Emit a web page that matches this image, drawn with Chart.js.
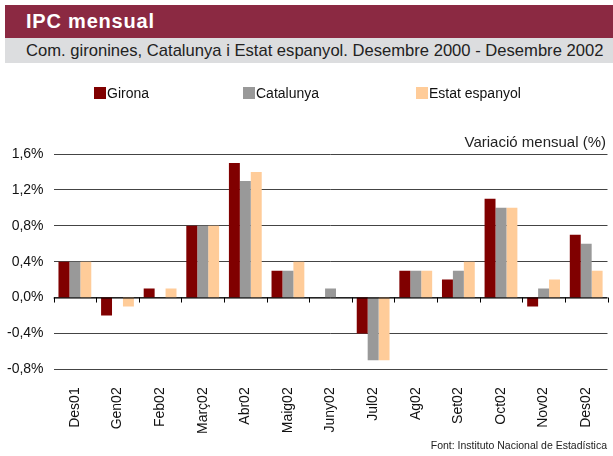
<!DOCTYPE html>
<html>
<head>
<meta charset="utf-8">
<script src="https://cdn.jsdelivr.net/npm/chart.js@4"></script>
<style>
  html, body { margin: 0; padding: 0; background: #fff; }
  #wrap { position: relative; width: 613px; height: 456px; overflow: hidden; font-family: "Liberation Sans", Arial, sans-serif; }
  #chartBox { position: absolute; left: -3px; top: 0; width: 616px; height: 456px; }
  .band-title { position: absolute; left: 5px; top: 5px; width: 608px; height: 33px; background: #8b2942; }
  .band-title span { position: absolute; left: 21px; top: 5px; color: #fff; font-weight: bold; font-size: 20px; letter-spacing: 0.8px; }
  .band-sub { position: absolute; left: 5px; top: 38px; width: 608px; height: 25px; background: #dcdddf; }
  .band-sub span { position: absolute; left: 21px; top: 3px; color: #222; font-size: 16.6px; white-space: nowrap; }
  .legend { position: absolute; top: 85px; font-size: 14px; color: #111; white-space: nowrap; }
  .legend i { display: inline-block; width: 12px; height: 12px; vertical-align: -1px; margin-right: 1px; }
  .unit { position: absolute; right: 7px; top: 133px; font-size: 15px; color: #222; }
  .source { position: absolute; right: 6px; top: 439px; font-size: 10.5px; color: #222; }
</style>
</head>
<body>
<div id="wrap">
  <div id="chartBox"><canvas id="ipcChart"></canvas></div>
  <div class="band-title"><span>IPC mensual</span></div>
  <div class="band-sub"><span>Com. gironines, Catalunya i Estat espanyol. Desembre 2000 - Desembre 2002</span></div>
  <div class="legend" style="left:94px"><i style="background:#800000"></i>Girona</div>
  <div class="legend" style="left:243px"><i style="background:#999999"></i>Catalunya</div>
  <div class="legend" style="left:416px"><i style="background:#ffcc99"></i>Estat espanyol</div>
  <div class="unit">Variació mensual (%)</div>
  <div class="source">Font: Instituto Nacional de Estadística</div>
</div>
<script>
// Monthly CPI change (%), Dec 2001 - Dec 2002
const months = ['Des01', 'Gen02', 'Feb02', 'Març02', 'Abr02', 'Maig02', 'Juny02', 'Jul02', 'Ag02', 'Set02', 'Oct02', 'Nov02', 'Des02'];
const girona    = [0.4, -0.2, 0.1, 0.8, 1.5, 0.3, 0.0, -0.4, 0.3, 0.2, 1.1, -0.1, 0.7];
const catalunya = [0.4,  0.0, 0.0, 0.8, 1.3, 0.3, 0.1, -0.7, 0.3, 0.3, 1.0,  0.1, 0.6];
const espanya   = [0.4, -0.1, 0.1, 0.8, 1.4, 0.4, 0.0, -0.7, 0.3, 0.4, 1.0,  0.2, 0.3];

const tickFont = { family: '"Liberation Sans", Arial, sans-serif', size: 14 };

// small tick marks along the zero line, between categories
const zeroTicks = {
    id: 'zeroTicks',
    afterDatasetsDraw(chart) {
        const x = chart.scales.x, y = chart.scales.y;
        const ctx = chart.ctx;
        const y0 = y.getPixelForValue(0);
        const step = x.getPixelForValue(1) - x.getPixelForValue(0);
        ctx.save();
        ctx.strokeStyle = '#000';
        ctx.lineWidth = 1;
        ctx.beginPath();
        ctx.moveTo(x.left, y0 + 0.5);
        ctx.lineTo(x.right, y0 + 0.5);
        for (let i = 0; i <= months.length; i++) {
            const px = Math.round(x.getPixelForValue(0) - step / 2 + i * step) + 0.5;
            ctx.moveTo(px, y0);
            ctx.lineTo(px, y0 + 5);
        }
        ctx.stroke();
        ctx.restore();
    }
};

const ctx = document.getElementById('ipcChart').getContext('2d');
new Chart(ctx, {
    type: 'bar',
    data: {
        labels: months,
        datasets: [
            { label: 'Girona', data: girona, backgroundColor: '#800000' },
            { label: 'Catalunya', data: catalunya, backgroundColor: '#999999' },
            { label: 'Estat espanyol', data: espanya, backgroundColor: '#ffcc99' }
        ]
    },
    options: {
        responsive: true,
        maintainAspectRatio: false,
        animation: false,
        layout: { padding: { left: 0, right: 0, top: 154, bottom: 12 } },
        datasets: { bar: { categoryPercentage: 0.77, barPercentage: 1.0 } },
        plugins: { legend: { display: false }, tooltip: { enabled: false } },
        scales: {
            x: {
                grid: { display: false },
                border: { display: false },
                ticks: {
                    autoSkip: false,
                    minRotation: 90,
                    maxRotation: 90,
                    padding: 10,
                    color: '#111',
                    font: tickFont
                }
            },
            y: {
                min: -0.8,
                max: 1.6,
                grid: { color: '#444', lineWidth: 1, drawTicks: false },
                border: { display: false },
                ticks: {
                    stepSize: 0.4,
                    padding: 10,
                    color: '#111',
                    font: tickFont,
                    callback: v => (Math.round(v * 10) / 10).toFixed(1).replace('.', ',') + '%'
                }
            }
        }
    },
    plugins: [zeroTicks]
});
</script>
</body>
</html>
